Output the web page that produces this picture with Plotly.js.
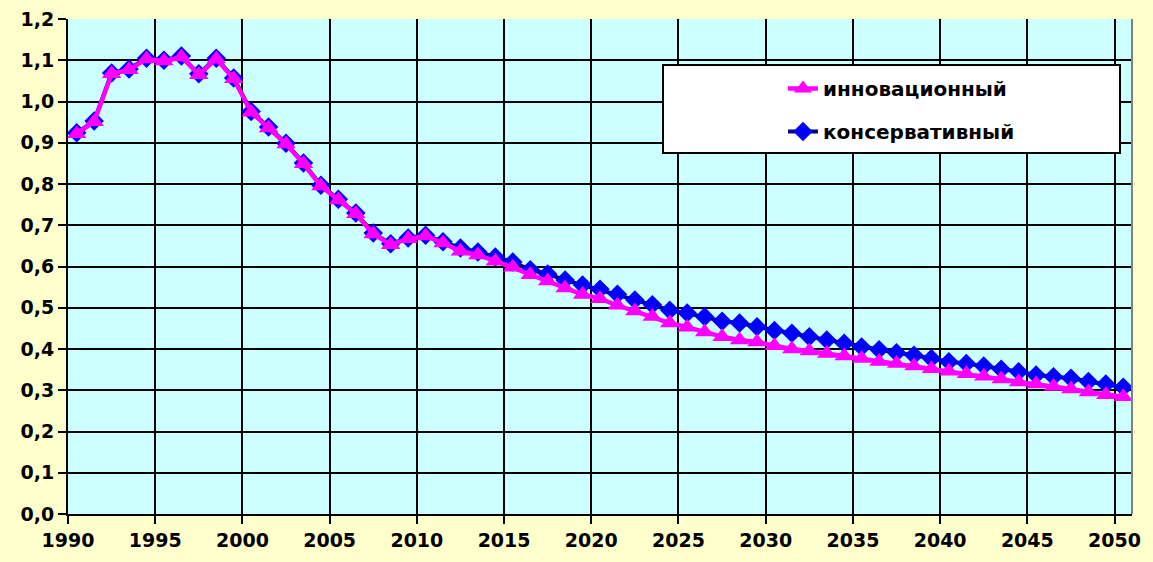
<!DOCTYPE html>
<html>
<head>
<meta charset="utf-8">
<script src="https://cdn.plot.ly/plotly-3.0.1.min.js"></script>
<style>html,body{margin:0;padding:0;background:#FFFFCC;}#chart{width:1153px;height:562px;}</style>
</head>
<body>
<div id="chart"></div>
<script>
const years = [];
for (let y = 1990; y <= 2050; y++) years.push(y);

const konservativny = [
  0.924, 0.953, 1.069, 1.079, 1.105, 1.100, 1.110, 1.067, 1.105, 1.057,
  0.976, 0.938, 0.899, 0.851, 0.797, 0.763, 0.730, 0.681, 0.655, 0.669,
  0.676, 0.660, 0.645, 0.635, 0.623, 0.611, 0.592, 0.582, 0.567, 0.555,
  0.545, 0.533, 0.519, 0.507, 0.494, 0.487, 0.478, 0.467, 0.463, 0.454,
  0.445, 0.438, 0.430, 0.422, 0.414, 0.405, 0.398, 0.391, 0.385, 0.377,
  0.369, 0.365, 0.359, 0.351, 0.345, 0.337, 0.333, 0.329, 0.321, 0.315,
  0.307
];

const innovatsionny = [
  0.922, 0.951, 1.067, 1.077, 1.103, 1.098, 1.108, 1.065, 1.103, 1.055,
  0.974, 0.936, 0.897, 0.849, 0.795, 0.761, 0.728, 0.679, 0.653, 0.667,
  0.674, 0.657, 0.637, 0.628, 0.613, 0.598, 0.580, 0.565, 0.548, 0.532,
  0.522, 0.506, 0.492, 0.479, 0.463, 0.453, 0.441, 0.430, 0.422, 0.417,
  0.408, 0.400, 0.395, 0.389, 0.383, 0.377, 0.370, 0.365, 0.359, 0.352,
  0.346, 0.340, 0.334, 0.327, 0.320, 0.315, 0.309, 0.303, 0.296, 0.289,
  0.284
];

const xTickYears = [1990, 1995, 2000, 2005, 2010, 2015, 2020, 2025, 2030, 2035, 2040, 2045, 2050];
const seriesNames = ['инновационный', 'консервативный'];

// Category-style axis: each year's point sits in the middle of its slot,
// tick marks (labelled with the year) sit on the slot's left boundary.
const traces = [
  {
    x: years, y: konservativny, name: seriesNames[1], type: 'scatter', mode: 'lines+markers',
    line: {color: '#000080', width: 4},
    marker: {symbol: 'diamond', size: 15, color: '#0000FF'},
    legendgroup: 'b', legendrank: 2
  },
  {
    x: years, y: innovatsionny, name: seriesNames[0], type: 'scatter', mode: 'lines+markers',
    line: {color: '#FF00FF', width: 4.5},
    marker: {symbol: 'triangle-up', size: 17, color: '#FF00FF'},
    legendgroup: 'a', legendrank: 1
  }
];

const layout = {
  width: 1153, height: 562,
  margin: {l: 68, r: 21, t: 19, b: 48, pad: 0},
  paper_bgcolor: '#FFFFCC',
  plot_bgcolor: '#CCFFFF',
  separators: ',.',
  font: {family: 'DejaVu Sans', color: '#000000'},
  showlegend: true,
  legend: {
    x: 0.672, y: 0.899, xanchor: 'left', yanchor: 'top',
    bgcolor: 'rgba(0,0,0,0)', borderwidth: 0,
    font: {family: 'DejaVu Sans', size: 20, weight: 'bold', color: '#000'},
    tracegroupgap: 14
  },
  xaxis: {
    range: [1989.5, 2050.5],
    tickmode: 'array',
    tickvals: xTickYears.map(v => v - 0.5),
    ticktext: xTickYears.map(String),
    ticks: 'outside', ticklen: 8, tickwidth: 2, tickcolor: '#000',
    showgrid: true, gridcolor: '#000', gridwidth: 2,
    showline: true, linecolor: '#000', linewidth: 2,
    zeroline: false,
    tickfont: {family: 'DejaVu Sans', size: 19, weight: 'bold', color: '#000'}
  },
  yaxis: {
    range: [0, 1.2],
    dtick: 0.1, tick0: 0, tickformat: '.1f',
    ticks: 'outside', ticklen: 8, tickwidth: 2, tickcolor: '#000',
    showgrid: true, gridcolor: '#000', gridwidth: 2,
    showline: true, linecolor: '#000', linewidth: 2,
    zeroline: false,
    tickfont: {family: 'DejaVu Sans', size: 19, weight: 'bold', color: '#000'}
  },
  shapes: [
    {type: 'rect', xref: 'paper', yref: 'paper', x0: (663-68)/1064, x1: (1120-68)/1064,
     y0: (514-153)/495, y1: (514-65)/495,
     fillcolor: '#FFFFFF', line: {color: '#000', width: 2}, layer: 'above'},
    {type: 'line', xref: 'paper', yref: 'paper', x0: 1, x1: 1, y0: 0, y1: 1,
     line: {color: '#808080', width: 2}, layer: 'above'}
  ]
};

Plotly.newPlot('chart', traces, layout, {displayModeBar: false, staticPlot: true});
</script>
</body>
</html>
